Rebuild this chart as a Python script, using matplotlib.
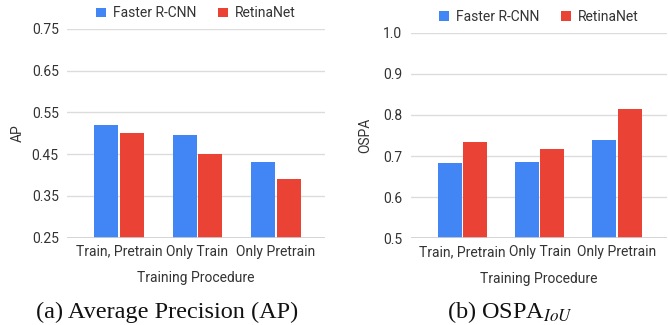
import numpy as np
import matplotlib.pyplot as plt

plt.rcParams['font.family'] = ['Roboto', 'DejaVu Sans']
plt.rcParams['mathtext.fontset'] = 'stix'

procedures = ["Train, Pretrain", "Only Train", "Only Pretrain"]
models = ["Faster R-CNN", "RetinaNet"]
colors = ["#4285F4", "#EA4335"]

# AP per training procedure
ap_faster = [0.520, 0.496, 0.432]
ap_retina = [0.502, 0.451, 0.391]

# OSPA_IoU per training procedure
ospa_faster = [0.682, 0.686, 0.738]
ospa_retina = [0.734, 0.717, 0.815]

text_col = "#333333"
grid_col = "#dcdcdc"

fig = plt.figure(figsize=(6.68, 3.25), dpi=100)
ax1 = fig.add_axes([0.1003, 0.2686, 0.3862, 0.6422])
ax2 = fig.add_axes([0.6148, 0.2668, 0.3837, 0.6326])


def draw_panel(ax, faster, retina, yticks, ylabel, ticklabels, xlim, ypad):
    x = np.arange(len(procedures))
    w = 0.31
    ax.bar(x - 0.163, faster, w, color=colors[0], label=models[0], zorder=3)
    ax.bar(x + 0.163, retina, w, color=colors[1], label=models[1], zorder=3)
    ax.set_ylim(yticks[0], yticks[-1])
    ax.set_xlim(*xlim)
    ax.set_yticks(yticks)
    ax.set_yticklabels(ticklabels)
    ax.set_xticks(x)
    ax.set_xticklabels(procedures)
    ax.yaxis.grid(True, color=grid_col, linewidth=1, zorder=0)
    ax.axhline(yticks[0], color="#cfcfcf", linewidth=1.2, zorder=4)
    for s in ax.spines.values():
        s.set_visible(False)
    ax.tick_params(length=0, labelsize=10, colors=text_col)
    ax.tick_params(axis="y", pad=6)
    ax.tick_params(axis="x", pad=5)
    ax.set_ylabel(ylabel, fontsize=10, color=text_col, labelpad=ypad)
    ax.set_xlabel("Training Procedure", fontsize=10, color=text_col, labelpad=9)
    ax.legend(loc="lower center", bbox_to_anchor=(0.5, 1.015), ncol=2,
              frameon=False, fontsize=10, handlelength=0.7, handleheight=0.7,
              handletextpad=0.5, columnspacing=1.6, labelcolor=text_col,
              borderaxespad=0)


draw_panel(ax1, ap_faster, ap_retina,
           [0.25, 0.35, 0.45, 0.55, 0.65, 0.75], "AP",
           ["0.25", "0.35", "0.45", "0.55", "0.65", "0.75"], (-0.662, 2.624), 5)
draw_panel(ax2, ospa_faster, ospa_retina,
           [0.5, 0.6, 0.7, 0.8, 0.9, 1.0], "OSPA",
           ["0.5", "0.6", "0.7", "0.8", "0.9", "1.0"], (-0.67, 2.647), 8)

fig.text(167 / 668, 1 - 312 / 325, "(a) Average Precision (AP)",
         family="Liberation Serif", fontsize=17.5, ha="center", va="center",
         color="#111111")
fig.text(510 / 668, 1 - 312 / 325, r"(b) OSPA$_{IoU}$",
         family="Liberation Serif", fontsize=17.5, ha="center", va="center",
         color="#111111")

fig.savefig("out.png", dpi=100)
